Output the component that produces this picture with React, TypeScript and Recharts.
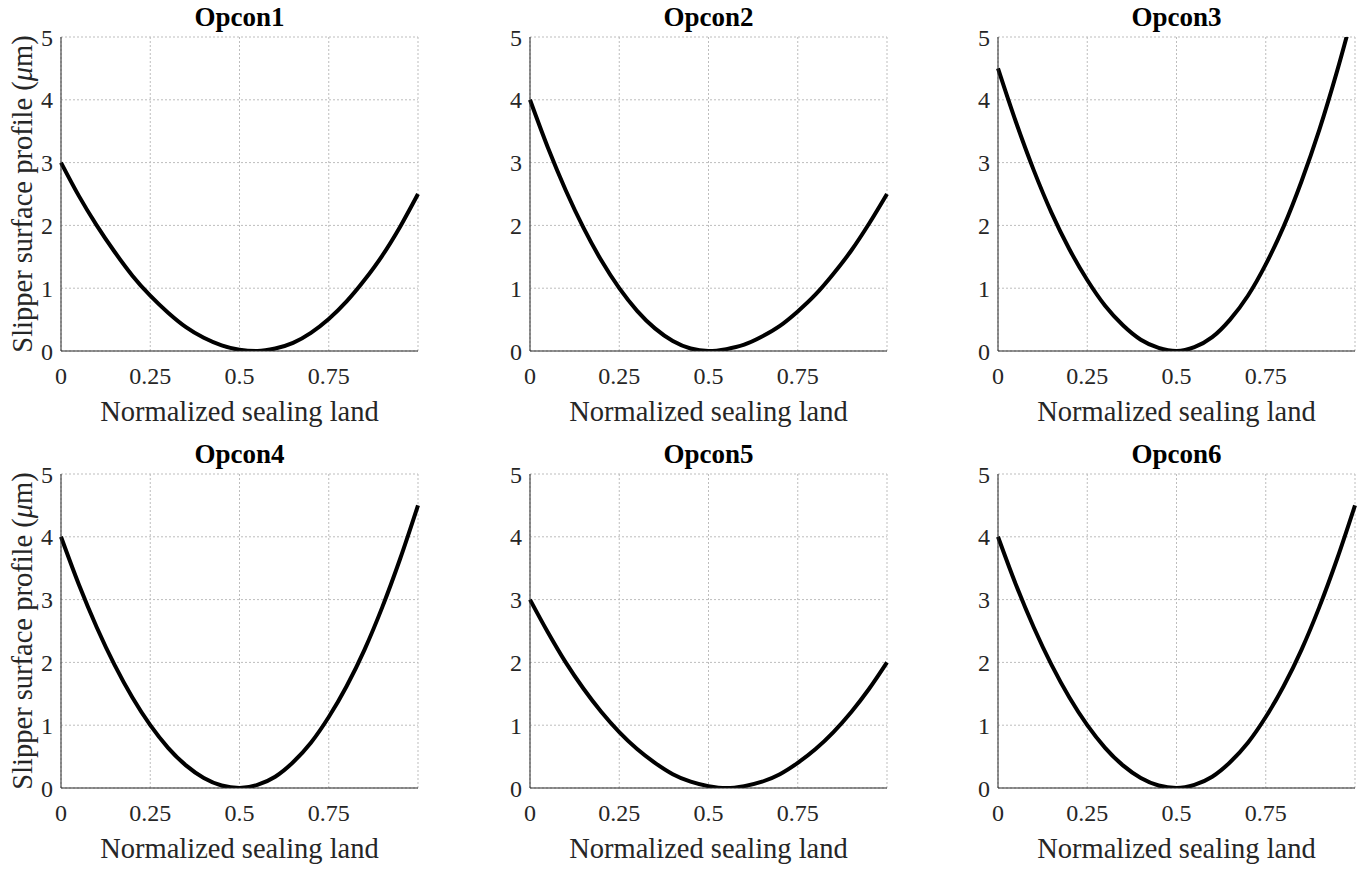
import React from 'react';
import { LineChart, Line, XAxis, YAxis, CartesianGrid, Label } from 'recharts';

// sample positions along the normalized sealing land
const landX = [0, 0.05, 0.1, 0.15, 0.2, 0.25, 0.3, 0.35, 0.4, 0.45, 0.5, 0.55, 0.6, 0.65, 0.7, 0.75, 0.8, 0.85, 0.9, 0.95, 1];

// slipper surface profile (um)
const opcon1 = [3.0, 2.47, 2.0, 1.58, 1.2, 0.88, 0.61, 0.38, 0.21, 0.09, 0.02, 0.0, 0.04, 0.13, 0.29, 0.51, 0.79, 1.13, 1.52, 1.98, 2.5];
const opcon2 = [4.0, 3.24, 2.56, 1.96, 1.44, 1.0, 0.64, 0.36, 0.16, 0.04, 0.0, 0.03, 0.1, 0.23, 0.4, 0.63, 0.9, 1.23, 1.6, 2.03, 2.5];
const opcon3 = [4.5, 3.65, 2.88, 2.2, 1.62, 1.13, 0.72, 0.41, 0.18, 0.05, 0.0, 0.06, 0.22, 0.5, 0.88, 1.38, 1.98, 2.7, 3.52, 4.46, 5.5];
const opcon4 = [4.0, 3.24, 2.56, 1.96, 1.44, 1.0, 0.64, 0.36, 0.16, 0.04, 0.0, 0.05, 0.18, 0.41, 0.72, 1.13, 1.62, 2.2, 2.88, 3.65, 4.5];
const opcon5 = [3.0, 2.48, 2.0, 1.58, 1.21, 0.89, 0.62, 0.4, 0.22, 0.1, 0.03, 0.0, 0.03, 0.1, 0.22, 0.4, 0.62, 0.89, 1.21, 1.58, 2.0];
const opcon6 = [4.0, 3.24, 2.56, 1.96, 1.44, 1.0, 0.64, 0.36, 0.16, 0.04, 0.0, 0.05, 0.18, 0.41, 0.72, 1.13, 1.62, 2.2, 2.88, 3.65, 4.5];

const titles = ['Opcon1', 'Opcon2', 'Opcon3', 'Opcon4', 'Opcon5', 'Opcon6'];
const series = [opcon1, opcon2, opcon3, opcon4, opcon5, opcon6];
const xTicks = [0, 0.25, 0.5, 0.75];
const yTicks = [0, 1, 2, 3, 4, 5];

const FONT = '"Liberation Serif", "Times New Roman", serif';
const TEXT = '#262626';

// plot-area placement of each panel
const colLeft = [61, 530, 998];
const rowTop = [37, 474];
const PW = 357;
const PH = 314;
const ML = 60; // y axis width
const MT = 20;
const MR = 10;
const XH = 70; // x axis height
const MB = 10;

const YLabel = (props: any) => {
  const vb = props.viewBox || { x: 0, y: MT, width: ML, height: PH };
  const cx = vb.x + 21;
  const cy = vb.y + vb.height / 2;
  return (
    <text
      x={cx}
      y={cy}
      transform={`rotate(-90, ${cx}, ${cy})`}
      textAnchor="middle"
      dominantBaseline="central"
      fill={TEXT}
      fontSize={28.5}
      fontFamily={FONT}
    >
      Slipper surface profile (<tspan fontStyle="italic">μ</tspan>m)
    </text>
  );
};

function Panel({ idx }: { idx: number }) {
  const col = idx % 3;
  const row = Math.floor(idx / 3);
  const left = colLeft[col];
  const top = rowTop[row];
  const data = landX.map((x, i) => ({ x, y: series[idx][i] }));

  return (
    <>
      <div
        style={{
          position: 'absolute',
          left,
          top: top - 33,
          width: PW,
          textAlign: 'center',
          fontFamily: FONT,
          fontWeight: 'bold',
          fontSize: 27,
          lineHeight: '27px',
          color: '#000',
        }}
      >
        {titles[idx]}
      </div>
      <div style={{ position: 'absolute', left: left - ML, top: top - MT }}>
        <LineChart
          width={PW + ML + MR}
          height={PH + MT + XH + MB}
          data={data}
          margin={{ top: MT, right: MR, bottom: MB, left: 0 }}
        >
          <CartesianGrid stroke="#bdbdbd" strokeDasharray="2 2" />
          <XAxis
            type="number"
            dataKey="x"
            domain={[0, 1]}
            ticks={xTicks}
            height={XH}
            tickLine={false}
            tickSize={0}
            tickMargin={16}
            axisLine={{ stroke: TEXT, strokeWidth: 1 }}
            tick={{ fill: TEXT, fontSize: 24, fontFamily: FONT }}
            interval={0}
          >
            <Label
              value="Normalized sealing land"
              position="insideBottom"
              offset={0}
              style={{ fill: TEXT, fontSize: 28.5, fontFamily: FONT }}
            />
          </XAxis>
          <YAxis
            type="number"
            domain={[0, 5]}
            ticks={yTicks}
            width={ML}
            allowDataOverflow
            tickLine={false}
            tickSize={0}
            tickMargin={8}
            axisLine={{ stroke: TEXT, strokeWidth: 1 }}
            tick={{ fill: TEXT, fontSize: 24, fontFamily: FONT }}
            interval={0}
          >
            {col === 0 ? <Label content={YLabel} /> : null}
          </YAxis>
          <Line
            type="monotone"
            dataKey="y"
            stroke="#000"
            strokeWidth={4}
            dot={false}
            activeDot={false}
            isAnimationActive={false}
          />
        </LineChart>
      </div>
    </>
  );
}

export default function App() {
  return (
    <div
      style={{
        position: 'absolute',
        left: 0,
        top: 0,
        width: 1363,
        height: 872,
        background: '#fff',
        overflow: 'hidden',
      }}
    >
      {titles.map((_, i) => (
        <Panel key={i} idx={i} />
      ))}
    </div>
  );
}
